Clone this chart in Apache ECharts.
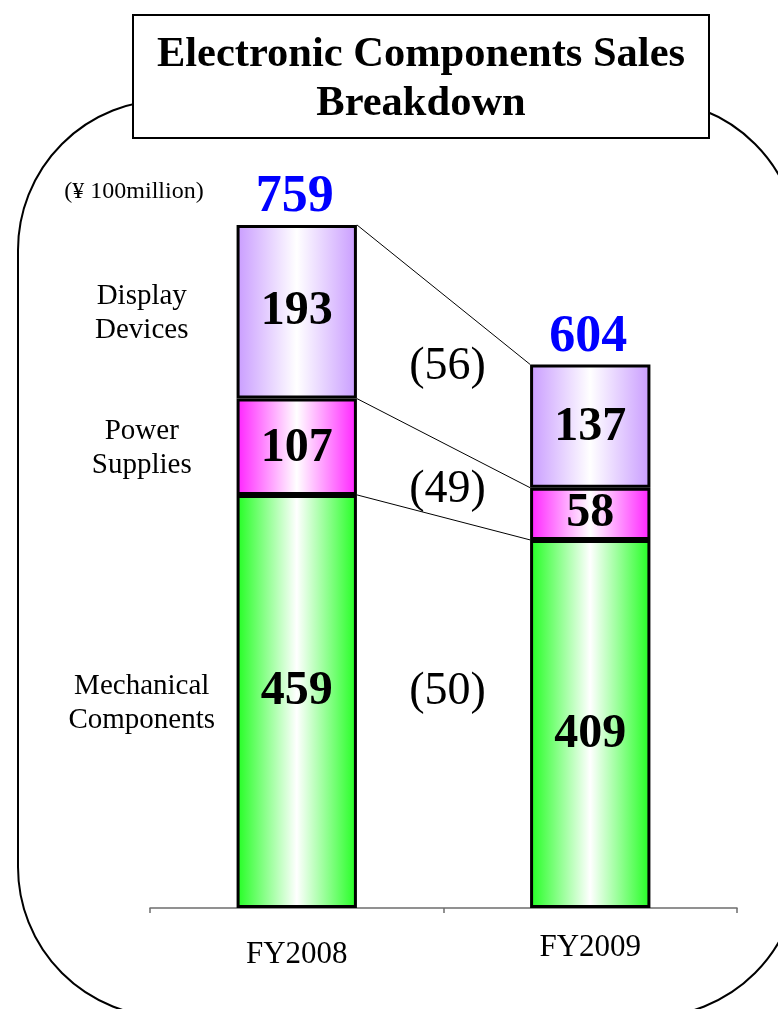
<!DOCTYPE html>
<html>
<head>
<meta charset="utf-8">
<title>Electronic Components Sales Breakdown</title>
<script src="https://cdn.jsdelivr.net/npm/echarts@6/dist/echarts.min.js"></script>
<style>
  html, body { margin: 0; padding: 0; background: #fff; }
  #chart { width: 778px; height: 1009px; }
</style>
</head>
<body>
<div id="chart"></div>
<script>
// Sales by product segment, in units of 100 million yen
const years = ['FY2008', 'FY2009'];
const segmentNames = ['Mechanical\nComponents', 'Power\nSupplies', 'Display\nDevices'];
const mechanical = [459, 409];
const power = [107, 58];
const display = [193, 137];
const unitLabel = '(¥ 100million)';
const titleLines = ['Electronic Components Sales', 'Breakdown'];

const SERIF = "'Liberation Serif', 'Times New Roman', Times, serif";
const segments = [mechanical, power, display];
const segmentColors = ['#22ff22', '#ff22ff', '#c99cff'];
const BAR_RATIO = 0.41;

// cumulative top of each segment per year
function stackTop(yearIdx, segIdx) {
  let s = 0;
  for (let k = 0; k <= segIdx; k++) s += segments[k][yearIdx];
  return s;
}
function stackMid(yearIdx, segIdx) {
  return stackTop(yearIdx, segIdx) - segments[segIdx][yearIdx] / 2;
}
const totals = years.map((_, i) => stackTop(i, segments.length - 1));
const changes = segments.map(s => s[1] - s[0]);

function sheen(color) {
  return {
    type: 'linear', x: 0, y: 0, x2: 1, y2: 0,
    colorStops: [
      { offset: 0, color: color },
      { offset: 0.5, color: '#ffffff' },
      { offset: 1, color: color }
    ]
  };
}

// small vertical nudges of the in-bar value labels
const valueLabelShift = [[-10, 11], [2, 0], [0, 2]];
// vertical nudges of the change labels between the bars
const changeLabelShift = [-21, 10, -2];

const barSeries = segments.map((vals, s) => ({
  type: 'bar',
  name: segmentNames[s],
  stack: 'total',
  barWidth: (BAR_RATIO * 100) + '%',
  animation: false,
  data: vals.map((v, i) => ({
    value: v,
    label: { offset: [0, valueLabelShift[s][i]] }
  })),
  itemStyle: { color: sheen(segmentColors[s]), borderColor: '#000', borderWidth: 3 },
  label: {
    show: true, position: 'inside', color: '#000',
    fontFamily: SERIF, fontWeight: 'bold', fontSize: 48
  },
  emphasis: { disabled: true },
  z: 3
}));

// connector lines between matching segment tops, with the year-on-year change
const connectorSeries = {
  type: 'custom',
  animation: false,
  silent: true,
  z: 2,
  data: changes.map((d, k) => [0, 0]),
  renderItem: function (params, api) {
    const k = params.dataIndex;
    const half = api.size([1, 0])[0] * BAR_RATIO / 2;
    const p1 = api.coord([0, stackTop(0, k)]);
    const p2 = api.coord([1, stackTop(1, k)]);
    const midY = (api.coord([0, stackMid(0, k)])[1] + api.coord([1, stackMid(1, k)])[1]) / 2;
    return {
      type: 'group',
      children: [
        {
          type: 'line',
          shape: { x1: p1[0] + half, y1: p1[1], x2: p2[0] - half, y2: p2[1] },
          style: { stroke: '#000', lineWidth: 1 }
        },
        {
          type: 'text',
          x: (p1[0] + p2[0]) / 2 + 4,
          y: midY + changeLabelShift[k],
          style: {
            text: '(' + Math.abs(changes[k]) + ')',
            font: 'normal 46px ' + SERIF,
            fill: '#000', textAlign: 'center', textVerticalAlign: 'middle'
          }
        }
      ]
    };
  }
};

// total above each bar
const totalSeries = {
  type: 'custom',
  animation: false,
  silent: true,
  z: 4,
  data: totals.map((t, i) => [i, t]),
  renderItem: function (params, api) {
    const p = api.coord([api.value(0), api.value(1)]);
    return {
      type: 'text',
      x: p[0] - 2,
      y: p[1] - 27,
      style: {
        text: String(totals[params.dataIndex]),
        font: 'bold 52px ' + SERIF,
        fill: '#0000ff', textAlign: 'center', textVerticalAlign: 'middle'
      }
    };
  }
};

// segment names to the left of the first bar
const nameSeries = {
  type: 'custom',
  animation: false,
  silent: true,
  z: 4,
  data: segmentNames.map((n, s) => [0, stackMid(0, s)]),
  renderItem: function (params, api) {
    const p = api.coord([0, api.value(1)]);
    return {
      type: 'text',
      x: p[0] - 155,
      y: p[1] + 2,
      style: {
        text: segmentNames[params.dataIndex],
        font: 'normal 29px ' + SERIF,
        lineHeight: 34,
        fill: '#000', textAlign: 'center', textVerticalAlign: 'middle'
      }
    };
  }
};

const chart = echarts.init(document.getElementById('chart'), null, { renderer: 'canvas' });

chart.setOption({
  backgroundColor: '#ffffff',
  animation: false,
  grid: { left: 150, right: 41, top: 188, bottom: 101 },
  xAxis: {
    type: 'category',
    data: years.map((y, i) => i === 0
      ? { value: y, textStyle: { lineHeight: 44 } }
      : { value: y }),
    axisLine: { show: true, lineStyle: { color: '#6e6e6e', width: 1.5 } },
    axisTick: { show: true, length: 5, lineStyle: { color: '#6e6e6e', width: 1.5 } },
    axisLabel: {
      margin: 25, color: '#000', fontFamily: SERIF, fontSize: 31, lineHeight: 30
    },
    splitLine: { show: false }
  },
  yAxis: { type: 'value', min: 0, max: 800, show: false },
  graphic: [
    {
      type: 'rect', z: 0, silent: true,
      shape: { x: 18, y: 100, width: 781, height: 917, r: 150 },
      style: { fill: 'none', stroke: '#000', lineWidth: 2 }
    },
    {
      type: 'rect', z: 10, silent: true,
      shape: { x: 133, y: 15, width: 576, height: 123 },
      style: { fill: '#fff', stroke: '#000', lineWidth: 2 }
    },
    {
      type: 'text', z: 11, silent: true,
      x: 421, y: 55,
      style: {
        text: titleLines[0], font: 'bold 42.5px ' + SERIF,
        fill: '#000', textAlign: 'center', textVerticalAlign: 'middle'
      }
    },
    {
      type: 'text', z: 11, silent: true,
      x: 421, y: 104,
      style: {
        text: titleLines[1], font: 'bold 42.5px ' + SERIF,
        fill: '#000', textAlign: 'center', textVerticalAlign: 'middle'
      }
    },
    {
      type: 'text', z: 11, silent: true,
      x: 134, y: 192,
      style: {
        text: unitLabel, font: 'normal 24px ' + SERIF,
        fill: '#000', textAlign: 'center', textVerticalAlign: 'middle'
      }
    }
  ],
  series: barSeries.concat([connectorSeries, totalSeries, nameSeries])
});
</script>
</body>
</html>
